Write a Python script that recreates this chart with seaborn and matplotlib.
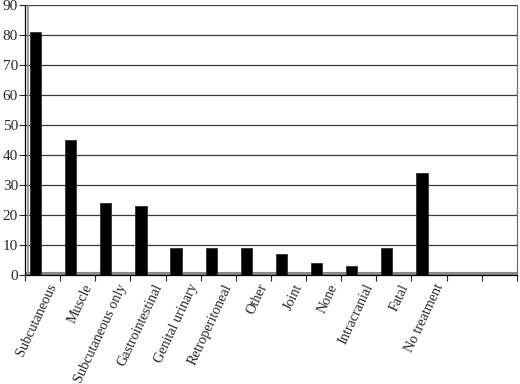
import matplotlib
matplotlib.use("Agg")
import matplotlib.pyplot as plt
import matplotlib.transforms as mtransforms
import seaborn as sns
import pandas as pd

# dados
categorias = ["Subcutaneous", "Muscle", "Subcutaneous only", "Gastrointestinal",
              "Genital urinary", "Retroperitoneal", "Other", "Joint", "None",
              "Intracranial", "Fatal", "No treatment"]
valores = [81, 45, 24, 23, 9, 9, 9, 7, 4, 3, 9, 34]
n_slots = 14  # duas posicoes vazias no fim
y_ticks = list(range(0, 100, 10))

df = pd.DataFrame({"categoria": categorias, "valor": valores})

sns.set_style("white")
plt.rcParams["font.family"] = ["Liberation Serif", "DejaVu Serif"]

fig = plt.figure(figsize=(5.2, 3.84), dpi=100)
ax = fig.add_axes([0.048, 0.284, 0.946, 0.703])

sns.barplot(data=df, x="categoria", y="valor", order=categorias, color="black",
            width=0.32, saturation=1, edgecolor="#303030", linewidth=0.6, ax=ax, zorder=3)

# deslocar as barras para a esquerda (efeito 3D do original)
for p in ax.patches:
    p.set_x(p.get_x() - 0.2)

ax.set_xlim(-0.5, n_slots - 0.5)
ax.set_ylim(0, 90)
ax.set_yticks(y_ticks)
ax.tick_params(axis="y", labelsize=11, length=4, width=0.8, direction="out", left=True, pad=1)

# grade horizontal
for v in y_ticks[1:]:
    ax.axhline(v, color="#3a3a3a", lw=0.9, zorder=1)
ax.axhline(0.4, color="#8a8a8a", lw=3, zorder=2)  # "chao" cinza
ax.axvline(-0.42, color="#8a8a8a", lw=1.2, zorder=2)

# ticks nas divisoes e rotulos nos centros
ax.set_xticks([i - 0.5 for i in range(n_slots + 1)])
ax.set_xticklabels([])
ax.set_xticks(list(range(len(categorias))), minor=True)
ax.set_xticklabels(categorias, minor=True, rotation=65, ha="right",
                   rotation_mode="anchor", fontsize=10.2)
ax.tick_params(axis="x", which="major", length=4, width=0.8, direction="out", bottom=True)
ax.tick_params(axis="x", which="minor", length=0, pad=5)

desloc = mtransforms.ScaledTranslation(0.05, 0, fig.dpi_scale_trans)
for lbl in ax.get_xticklabels(minor=True):
    lbl.set_transform(lbl.get_transform() + desloc)

ax.set_xlabel("")
ax.set_ylabel("")
for s in ["left", "bottom", "right"]:
    ax.spines[s].set_visible(True)
    ax.spines[s].set_color("black")
    ax.spines[s].set_linewidth(0.9)
ax.spines["right"].set_color("#707070")
ax.spines["top"].set_visible(False)

fig.savefig("out.png", dpi=100)
